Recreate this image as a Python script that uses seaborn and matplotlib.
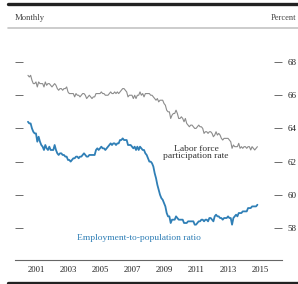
import numpy as np
import pandas as pd
import matplotlib
matplotlib.use("Agg")
import matplotlib.pyplot as plt
from matplotlib.lines import Line2D
import seaborn as sns

# Monthly values, Jan 2001 - May 2015
lfpr = [
    67.2, 67.1, 67.2, 66.9, 66.7, 66.7, 66.8, 66.5, 66.8, 66.7, 66.7, 66.7,
    66.5, 66.8, 66.6, 66.7, 66.7, 66.6, 66.5, 66.6, 66.7, 66.6, 66.4, 66.3,
    66.4, 66.4, 66.3, 66.4, 66.4, 66.5, 66.2, 66.1, 66.1, 66.1, 66.1, 65.9,
    66.1, 66.0, 66.0, 65.9, 66.0, 66.1, 66.1, 66.0, 65.8, 65.9, 66.0, 65.9,
    65.8, 65.9, 65.9, 66.1, 66.1, 66.1, 66.1, 66.2, 66.1, 66.1, 66.0, 66.0,
    66.0, 66.1, 66.2, 66.1, 66.1, 66.2, 66.1, 66.2, 66.1, 66.2, 66.3, 66.4,
    66.4, 66.3, 66.2, 65.9, 66.0, 66.0, 66.0, 65.8, 66.0, 65.8, 66.0, 66.0,
    66.2, 66.0, 66.1, 65.9, 66.1, 66.1, 66.1, 66.1, 66.0, 66.0, 65.9, 65.8,
    65.7, 65.8, 65.6, 65.7, 65.7, 65.7, 65.5, 65.4, 65.1, 65.0, 65.0, 64.6,
    64.8, 64.9, 64.9, 65.1, 64.9, 64.6, 64.6, 64.7, 64.6, 64.4, 64.6, 64.3,
    64.2, 64.1, 64.2, 64.2, 64.1, 64.0, 64.0, 64.1, 64.2, 64.1, 64.1, 64.0,
    63.7, 63.8, 63.8, 63.7, 63.8, 63.8, 63.7, 63.5, 63.6, 63.8, 63.6, 63.7,
    63.6, 63.4, 63.3, 63.4, 63.4, 63.4, 63.4, 63.3, 63.2, 62.8, 63.0, 62.9,
    62.9, 62.9, 63.1, 62.8, 62.9, 62.8, 62.9, 62.9, 62.8, 62.9, 62.9, 62.7,
    62.9, 62.8, 62.7, 62.8, 62.9,
]
epop = [
    64.4, 64.3, 64.3, 64.0, 63.8, 63.7, 63.7, 63.2, 63.5, 63.2, 63.0, 62.9,
    62.7, 63.0, 62.8, 62.7, 62.9, 62.7, 62.7, 62.7, 63.0, 62.7, 62.5, 62.4,
    62.5, 62.5, 62.4, 62.4, 62.3, 62.3, 62.1, 62.1, 62.0, 62.1, 62.2, 62.2,
    62.3, 62.3, 62.2, 62.3, 62.3, 62.4, 62.5, 62.4, 62.3, 62.3, 62.4, 62.4,
    62.4, 62.4, 62.4, 62.7, 62.8, 62.7, 62.8, 62.9, 62.8, 62.8, 62.7, 62.8,
    62.9, 63.0, 63.1, 63.0, 63.1, 63.1, 63.0, 63.1, 63.1, 63.3, 63.3, 63.4,
    63.3, 63.3, 63.3, 63.0, 63.0, 63.0, 62.9, 62.8, 62.9, 62.7, 62.9, 62.7,
    62.9, 62.8, 62.7, 62.7, 62.5, 62.4, 62.2, 62.0, 62.0, 61.9, 61.7, 61.3,
    61.0, 60.6, 60.3, 60.0, 59.8, 59.7, 59.5, 59.3, 58.9, 58.7, 58.7, 58.3,
    58.5, 58.5, 58.5, 58.7, 58.6, 58.5, 58.5, 58.5, 58.5, 58.3, 58.3, 58.3,
    58.4, 58.4, 58.4, 58.4, 58.4, 58.2, 58.2, 58.3, 58.4, 58.4, 58.5, 58.5,
    58.4, 58.5, 58.5, 58.4, 58.6, 58.6, 58.5, 58.4, 58.7, 58.8, 58.7, 58.7,
    58.6, 58.6, 58.5, 58.6, 58.6, 58.6, 58.7, 58.6, 58.6, 58.2, 58.6, 58.7,
    58.8, 58.7, 58.9, 58.9, 58.9, 59.0, 59.0, 59.0, 59.0, 59.2, 59.2, 59.2,
    59.3, 59.3, 59.3, 59.3, 59.4,
]
start_year = 2001
year_labels = ["2001", "2003", "2005", "2007", "2009", "2011", "2013", "2015"]
y_ticks = [58, 60, 62, 64, 66, 68]

n = len(lfpr)
t = start_year + np.arange(n) / 12.0
df = pd.DataFrame({
    "t": np.concatenate([t, t]),
    "value": lfpr + epop,
    "series": ["lfpr"] * n + ["epop"] * n,
})

sns.set_style("white")
plt.rcParams["font.family"] = ["Liberation Serif", "DejaVu Serif"]

W, H = 298, 284
fig = plt.figure(figsize=(W / 100, H / 100), dpi=100)
L, R, T, B = 15, 282, 35, 260
ax = fig.add_axes([L / W, 1 - B / H, (R - L) / W, (B - T) / H])

gray = "#8c8c8c"
blue = "#2f7fb6"
sns.lineplot(data=df, x="t", y="value", hue="series",
             palette={"lfpr": gray, "epop": blue}, ax=ax, legend=False,
             estimator=None)
for ln, lw in zip(ax.get_lines(), [0.8, 1.3]):
    ln.set_linewidth(lw)

ax.set_xlim(2000.19, 2016.87)
ax.set_ylim(56.07, 69.63)
ax.set_xlabel("")
ax.set_ylabel("")

for s in ["top", "left", "right"]:
    ax.spines[s].set_visible(False)
ax.spines["bottom"].set_color("#666666")
ax.spines["bottom"].set_linewidth(0.8)

years = list(range(2001, 2017))
ax.set_xticks([2000.19] + years + [2016.87])
ax.set_xticklabels([])
ax.tick_params(axis="x", which="major", direction="in", length=3.5,
               width=0.6, color="#666666")
ax.set_xticks([int(y) + 0.5 for y in year_labels], minor=True)
ax.set_xticklabels(year_labels, minor=True)
ax.tick_params(axis="x", which="minor", length=0, pad=4.5, labelsize=6.2,
               labelcolor="#222222")

ax.set_yticks(y_ticks)
ax.tick_params(axis="y", direction="in", length=6, width=0.6,
               color="#555555", left=True, right=True,
               labelleft=False, labelright=True, pad=3.8,
               labelsize=6.5, labelcolor="#222222")

ax.text(2011.5, 62.55, "Labor force\nparticipation rate", ha="center",
        va="center", fontsize=6.8, color="#333333", linespacing=0.95)
ax.text(2007.94, 57.4, "Employment-to-population ratio", ha="center",
        va="center", fontsize=6.8, color=blue)

# header / footer rules
fig.add_artist(Line2D([8 / W, 1], [1 - 4 / H] * 2, color="#222222", lw=2.4))
fig.add_artist(Line2D([8 / W, 1], [1 - 28 / H] * 2, color="#c4c4c4", lw=1.2))
fig.add_artist(Line2D([8 / W, 1], [1 - 282.5 / H] * 2, color="#222222", lw=2.4))
fig.text(15 / W, 1 - 18 / H, "Monthly", fontsize=6.2, color="#444444",
         va="center", ha="left")
fig.text(271 / W, 1 - 18 / H, "Percent", fontsize=6.0, color="#444444",
         va="center", ha="left")

fig.savefig("out.png", dpi=100)
